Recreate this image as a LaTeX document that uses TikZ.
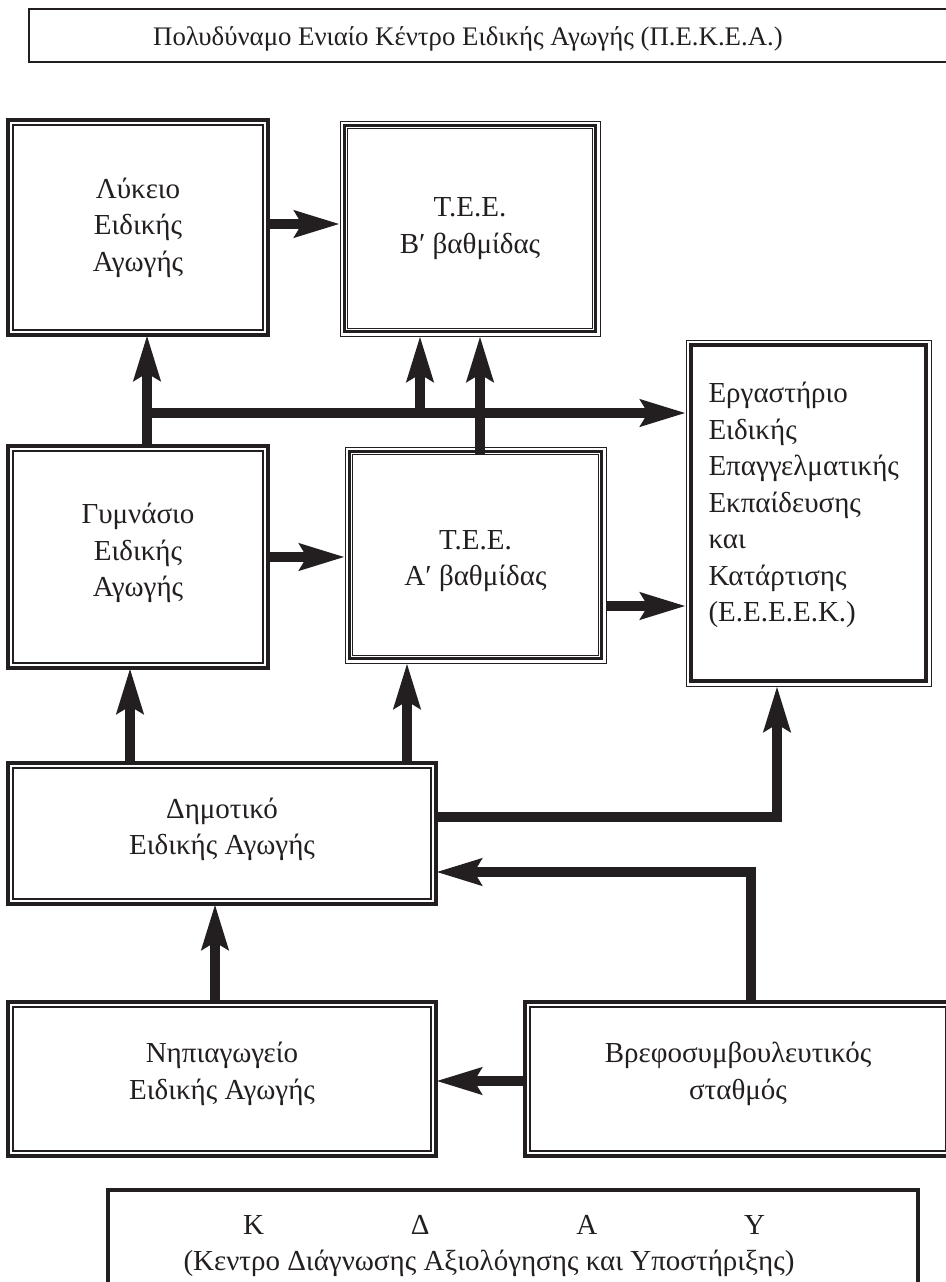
\documentclass[tikz,border=0pt]{standalone}
\usepackage{fontspec}
\setmainfont{Liberation Serif}
\usetikzlibrary{arrows.meta}
\definecolor{ink}{RGB}{35,31,32}
\newcommand\boxfont{\fontsize{29}{36.5}\selectfont}
\newcommand\titlefont{\fontsize{26.8}{36.5}\selectfont}
\tikzset{
  box/.style={rectangle, inner sep=0pt, outer sep=0pt, font=\boxfont, align=center, draw=ink, text=ink},
  boxA/.style={box, line width=4pt},
  boxT/.style={box, line width=1pt},
  boxE/.style={box, line width=1pt},
  boxS/.style={box, line width=2pt},
  boxK/.style={box, line width=4pt},
  label text/.style={inner sep=0pt, font=\boxfont, text=ink, align=center},
  arr/.style={draw=ink, line width=9.5pt, line join=miter, -{Stealth[length=45pt,width=26pt,inset=7pt]}},
}
\begin{document}
\begin{tikzpicture}[x=1pt,y=-1pt]
\useasboundingbox (0,0) rectangle (945,1282);
\fill[white] (0,0) rectangle (945,1282);

% boxes
\node[boxS, minimum width=918pt, minimum height=53pt] (pekea) at (488,35.5) {};
\node[label text, font=\titlefont] (pekeatext) at (468,39) {Πολυδύναμο Ενιαίο Κέντρο Ειδικής Αγωγής (Π.Ε.Κ.Ε.Α.)};

\node[boxA, minimum width=260pt, minimum height=215pt] (lyk) at (138,227.5) {Λύκειο\\Ειδικής\\Αγωγής};
\node[boxT, minimum width=260pt, minimum height=215pt] (teeb) at (470,228.5) {Τ.Ε.Ε.\\Β′ βαθμίδας};
\node[boxA, minimum width=260pt, minimum height=222pt, text depth=14pt] (gym) at (138,557) {Γυμνάσιο\\Ειδικής\\Αγωγής};
\node[boxT, minimum width=261pt, minimum height=216pt] (teea) at (475.5,555) {\rule{0pt}{31pt}Τ.Ε.Ε.\\Α′ βαθμίδας};
\node[boxE, minimum width=245pt, minimum height=346pt, align=left, text width=200pt] (eeeek) at (808.5,513)
  {Εργαστήριο\\Ειδικής\\Επαγγελματικής\\Εκπαίδευσης\\και\\Κατάρτισης\\(Ε.Ε.Ε.Ε.Κ.)\rule[-22pt]{0pt}{22pt}};
\node[boxA, minimum width=428pt, minimum height=141pt, text depth=14pt] (dim) at (222,833.5) {Δημοτικό\\Ειδικής Αγωγής};
\node[boxA, minimum width=428pt, minimum height=154pt, text depth=16pt] (nip) at (222,1079) {Νηπιαγωγείο\\Ειδικής Αγωγής};
\node[boxA, minimum width=426pt, minimum height=154pt, text depth=16pt] (vref) at (738,1079) {Βρεφοσυμβουλευτικός\\σταθμός};
\node[boxK, minimum width=810pt, minimum height=106pt] (kday) at (513,1243) {};
\node[label text] (kdaytext) at (489,1246)
  {\hspace*{30pt}\makebox[522pt]{Κ\hfill Δ\hfill Α\hfill Υ}\\(Κεντρο Διάγνωσης Αξιολόγησης και Υποστήριξης)};

% inner frames
\foreach \n in {lyk,gym,dim,nip,vref}
  \draw[ink, line width=1.1pt] ([shift={(5,5)}]\n.north west) rectangle ([shift={(-5,-5)}]\n.south east);
\foreach \n in {teeb,teea}{
  \draw[ink, line width=3.2pt] ([shift={(4.4,4.4)}]\n.north west) rectangle ([shift={(-4.4,-4.4)}]\n.south east);
  \draw[ink, line width=1pt] ([shift={(7.6,7.6)}]\n.north west) rectangle ([shift={(-7.6,-7.6)}]\n.south east);
}
\draw[ink, line width=3.6pt] ([shift={(5.2,5.2)}]eeeek.north west) rectangle ([shift={(-5.2,-5.2)}]eeeek.south east);

% helper coordinates
\coordinate (yLT) at (0,224);
\coordinate (xG) at (147,0);
\coordinate (yH) at (0,413);
\coordinate (xB1) at (420,0);
\coordinate (xB2) at (480,0);
\coordinate (yTA) at (0,455);
\coordinate (yGT) at (0,557);
\coordinate (yTE) at (0,606);
\coordinate (xD1) at (130,0);
\coordinate (xD2) at (407,0);
\coordinate (yDE) at (0,817);
\coordinate (xDE) at (777,0);
\coordinate (xV) at (751,0);
\coordinate (yVD) at (0,872);
\coordinate (xN) at (215,0);
\coordinate (yVN) at (0,1081);

% connectors
\draw[arr] (lyk.east |- yLT) -- (teeb.west |- yLT);
\draw[arr] (gym.north -| xG) -- (lyk.south -| xG);
\draw[arr] (xG |- yH) -- (eeeek.west |- yH);
\draw[arr] (xB1 |- yH) -- (teeb.south -| xB1);
\draw[arr] (xB2 |- yTA) -- (teeb.south -| xB2);
\draw[arr] (gym.east |- yGT) -- (teea.west |- yGT);
\draw[arr] (teea.east |- yTE) -- (eeeek.west |- yTE);
\draw[arr] (dim.north -| xD1) -- (gym.south -| xD1);
\draw[arr] (dim.north -| xD2) -- (teea.south -| xD2);
\draw[arr] (dim.east |- yDE) -| (eeeek.south -| xDE);
\draw[arr] (vref.north -| xV) |- (dim.east |- yVD);
\draw[arr] (nip.north -| xN) -- (dim.south -| xN);
\draw[arr] (vref.west |- yVN) -- (nip.east |- yVN);
\end{tikzpicture}
\end{document}
